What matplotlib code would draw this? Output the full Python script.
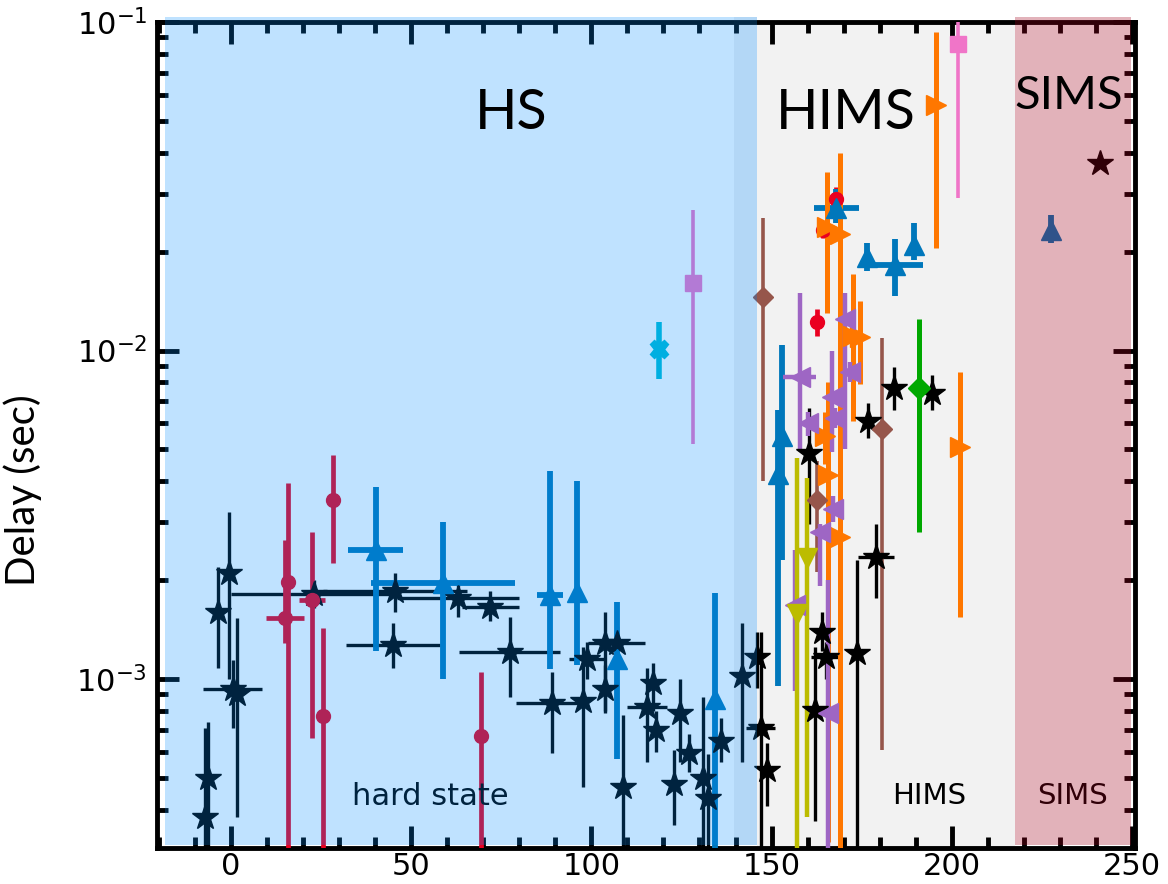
import numpy as np
import matplotlib.pyplot as plt
from matplotlib.ticker import MultipleLocator

# black stars (the main sample)
star_x = [-7.2, -6.4, -3.6, -0.6, 0.5, 1.8, 23, 45.5, 63, 72, 45, 77.4, 89, 97.6,
          98.7, 103.7, 107, 103.7, 108.7, 115.4, 117, 118, 124.5, 127, 123, 131,
          132.4, 136, 141.7, 146, 147, 148.6, 164, 165, 173.6, 162, 160.4, 176.7,
          184, 194.4, 179, 241]
star_y = [3.8e-4, 5.0e-4, 1.6e-3, 2.1e-3, 9.3e-4, 9.0e-4, 1.82e-3, 1.86e-3, 1.76e-3,
          1.66e-3, 1.27e-3, 1.21e-3, 8.45e-4, 8.6e-4, 1.15e-3, 1.29e-3, 1.29e-3,
          9.3e-4, 4.7e-4, 8.2e-4, 9.7e-4, 7.0e-4, 7.9e-4, 5.95e-4, 4.8e-4, 5.0e-4,
          4.35e-4, 6.5e-4, 1.02e-3, 1.17e-3, 7.1e-4, 5.3e-4, 1.39e-3, 1.17e-3,
          1.2e-3, 8.05e-4, 4.86e-3, 6.1e-3, 7.7e-3, 7.45e-3, 2.35e-3, 3.73e-2]
star_xerr = [0, 0, 0, 0, 8.2, 0, 23, 20, 17, 8, 13, 14, 10, 0, 5, 0, 8, 0, 0, 5.5,
             0, 0, 0, 0, 0, 0, 0, 0, 0, 0, 4, 0, 0, 4, 0, 0, 0, 0, 0, 0, 5, 0]
star_ylo = [2e-4, 2e-4, 1.08e-3, 1.0e-3, 7.1e-4, 3.8e-4, 1.65e-3, 1.6e-3, 1.55e-3,
            1.5e-3, 1.08e-3, 8.8e-4, 5.95e-4, 4.7e-4, 1.0e-3, 7.9e-4, 1.15e-3,
            8.0e-4, 2e-4, 5.6e-4, 8e-4, 6e-4, 5.6e-4, 5.2e-4, 3.6e-4, 2e-4, 2e-4,
            5.6e-4, 5.6e-4, 9.4e-4, 2e-4, 4.1e-4, 1.22e-3, 1.0e-3, 2e-4, 3.7e-4,
            2.96e-3, 5.4e-3, 6.6e-3, 6.6e-3, 1.77e-3, 3.73e-2]
star_yhi = [7.1e-4, 7.4e-4, 2.19e-3, 3.22e-3, 1.14e-3, 1.53e-3, 2.0e-3, 2.1e-3,
            2.0e-3, 1.85e-3, 1.48e-3, 1.55e-3, 1.05e-3, 1.25e-3, 1.3e-3, 1.6e-3,
            1.45e-3, 1.1e-3, 7.8e-4, 1.08e-3, 1.12e-3, 8e-4, 1.0e-3, 6.8e-4, 6.1e-4,
            8.8e-4, 5.9e-4, 7.6e-4, 1.48e-3, 1.39e-3, 1.39e-3, 6.4e-4, 1.6e-3,
            1.3e-3, 2.3e-3, 1.25e-3, 6.7e-3, 6.9e-3, 8.9e-3, 8.4e-3, 2.96e-3, 3.73e-2]

red_x = [15.8, 15, 22.5, 28.3, 25.5, 69.3, 162.5, 168, 164.2]
red_y = [1.97e-3, 1.53e-3, 1.74e-3, 3.52e-3, 7.7e-4, 6.7e-4, 1.22e-2, 2.9e-2, 2.33e-2]
red_xerr = [0, 5.2, 3.7, 0, 0, 0, 0, 0, 0]
red_ylo = [2e-4, 1.29e-3, 6.6e-4, 2.26e-3, 2e-4, 2e-4, 1.11e-2, 2.65e-2, 2.2e-2]
red_yhi = [3.94e-3, 2.65e-3, 2.8e-3, 4.8e-3, 1.43e-3, 1.05e-3, 1.34e-2, 3.15e-2, 2.45e-2]

blue_x = [40.2, 58.8, 88.5, 96, 107, 134.3, 153, 151.7, 168, 176.4, 184.2, 189.5, 227.5]
blue_y = [2.47e-3, 1.96e-3, 1.8e-3, 1.84e-3, 1.15e-3, 8.7e-4, 5.5e-3, 4.2e-3,
          2.72e-2, 1.92e-2, 1.82e-2, 2.09e-2, 2.32e-2]
blue_xerr = [7.6, 20, 3.7, 0, 0, 0, 0, 0, 6.2, 0, 7.8, 0, 0]
blue_ylo = [1.22e-3, 1.0e-3, 1.07e-3, 1.1e-3, 5.7e-4, 2e-4, 2.3e-3, 9.5e-4,
            2.45e-2, 1.75e-2, 1.47e-2, 1.88e-2, 2.12e-2]
blue_yhi = [3.84e-3, 3.0e-3, 4.3e-3, 4.0e-3, 1.72e-3, 1.83e-3, 1.04e-2, 6.6e-3,
            3.1e-2, 2.12e-2, 2.19e-2, 2.45e-2, 2.58e-2]

cyan_x = [118.7]
cyan_y = [1.01e-2]
cyan_ylo = [8.2e-3]
cyan_yhi = [1.22e-2]

pink_x = [128.2, 201.7]
pink_y = [1.6e-2, 8.6e-2]
pink_ylo = [5.2e-3, 2.92e-2]
pink_yhi = [2.68e-2, 0.12]

brown_x = [147.6, 180.6, 162.5]
brown_y = [1.46e-2, 5.75e-3, 3.5e-3]
brown_ylo = [4.0e-3, 6.1e-4, 2.12e-3]
brown_yhi = [2.54e-2, 1.09e-2, 4.6e-3]

orange_x = [165.3, 169, 172.5, 174.5, 195.6, 202.2, 164.8, 165.6, 169]
orange_y = [2.37e-2, 2.27e-2, 1.11e-2, 1.1e-2, 5.6e-2, 5.1e-3, 5.5e-3, 4.17e-3, 2.7e-3]
orange_ylo = [1.3e-2, 2e-4, 6.1e-3, 7.9e-3, 2.05e-2, 1.54e-3, 4.5e-3, 3.2e-4, 2.4e-3]
orange_yhi = [3.5e-2, 4.0e-2, 1.71e-2, 1.42e-2, 9.3e-2, 8.6e-3, 6.5e-3, 8.0e-3, 3.0e-3]

purple_x = [170.5, 171.7, 166.7, 167.5, 157.8, 160, 167, 163.4, 156.4, 165.6]
purple_y = [1.25e-2, 8.6e-3, 7.2e-3, 6.25e-3, 8.3e-3, 6.0e-3, 3.3e-3, 2.8e-3, 1.68e-3, 7.9e-4]
purple_xerr = [0, 0, 0, 0, 4.6, 0, 0, 0, 0, 0]
purple_ylo = [5.0e-3, 8.0e-3, 4.9e-3, 5.8e-3, 5.0e-3, 5.5e-3, 3.0e-3, 1.92e-3, 9.2e-4, 2e-4]
purple_yhi = [1.5e-2, 9.2e-3, 1.0e-2, 6.7e-3, 1.5e-2, 6.5e-3, 3.6e-3, 2.96e-3, 2.47e-3, 2.0e-3]

olive_x = [159.8, 157]
olive_y = [2.33e-3, 1.58e-3]
olive_ylo = [3.8e-4, 2e-4]
olive_yhi = [4.1e-3, 4.7e-3]

green_x = [190.8]
green_y = [7.7e-3]
green_ylo = [2.8e-3]
green_yhi = [1.25e-2]


def plot_series(ax, x, y, ylo, yhi, xerr=None, **kw):
    y = np.asarray(y)
    yerr = [y - np.asarray(ylo), np.asarray(yhi) - y]
    ax.errorbar(x, y, yerr=yerr, xerr=xerr, linestyle='none', capsize=0, **kw)


fig = plt.figure(figsize=(11.68, 8.84), dpi=100)
ax = fig.add_axes([0.1344, 0.0407, 0.8373, 0.9344])

# state shading
ax.axvspan(146, 217.5, color='#f2f2f2', lw=0, zorder=0)

plot_series(ax, star_x, star_y, star_ylo, star_yhi, xerr=star_xerr, fmt='*',
            color='black', ms=19, elinewidth=2.4, zorder=3)
plot_series(ax, red_x, red_y, red_ylo, red_yhi, xerr=red_xerr, fmt='o',
            color='#ea0020', ms=10, elinewidth=3.4, zorder=3)
plot_series(ax, blue_x, blue_y, blue_ylo, blue_yhi, xerr=blue_xerr, fmt='^',
            color='#0077bb', ms=14, elinewidth=4.2, zorder=3)
plot_series(ax, cyan_x, cyan_y, cyan_ylo, cyan_yhi, fmt='X',
            color='#00bcd8', ms=13, elinewidth=4, zorder=3)
plot_series(ax, pink_x, pink_y, pink_ylo, pink_yhi, fmt='s',
            color='#f075c8', ms=12, elinewidth=2.6, zorder=3)
plot_series(ax, brown_x, brown_y, brown_ylo, brown_yhi, fmt='D',
            color='#96564b', ms=10, elinewidth=2.6, zorder=3)
plot_series(ax, orange_x, orange_y, orange_ylo, orange_yhi, fmt='>',
            color='#ff7700', ms=15, elinewidth=3.6, zorder=3)
plot_series(ax, purple_x, purple_y, purple_ylo, purple_yhi, xerr=purple_xerr, fmt='<',
            color='#9e66c4', ms=15, elinewidth=3.2, zorder=3)
plot_series(ax, olive_x, olive_y, olive_ylo, olive_yhi, fmt='v',
            color='#bcbc00', ms=15, elinewidth=3.2, zorder=3)
plot_series(ax, green_x, green_y, green_ylo, green_yhi, fmt='D',
            color='#00a800', ms=11, elinewidth=3.6, zorder=3)

ax.text(55.2, 4.4e-4, 'hard state', fontsize=22, ha='center', va='center', zorder=4)
ax.text(193.6, 4.4e-4, 'HIMS', fontsize=21, ha='center', va='center', zorder=4)
ax.text(233.6, 4.4e-4, 'SIMS', fontsize=21, ha='center', va='center', zorder=4)

# translucent overlays for the hard and soft-intermediate states
ax.axvspan(-18.3, 146, ymin=0.004, ymax=1.006, color=(0.0, 0.55, 1.0), alpha=0.25,
           lw=0, zorder=10, clip_on=False)
ax.axvspan(139.5, 146, ymin=0.004, ymax=1.006, color='#1f4f80', alpha=0.07,
           lw=0, zorder=10, clip_on=False)
ax.axvspan(217.5, 249.8, ymin=0.004, ymax=1.006, color=(0.63, 0.0, 0.105), alpha=0.3,
           lw=0, zorder=10, clip_on=False)

ax.text(77.7, 5.28e-2, 'HS', fontsize=40, family='Lato', ha='center', va='center', zorder=12)
ax.text(170.6, 5.28e-2, 'HIMS', fontsize=40, family='Lato', ha='center', va='center', zorder=12)
ax.text(232.5, 5.96e-2, 'SIMS', fontsize=34, family='Lato', ha='center', va='center', zorder=12)

ax.set_yscale('log')
ax.set_xlim(-20.5, 250.8)
ax.set_ylim(3.06e-4, 0.1)
ax.xaxis.set_major_locator(MultipleLocator(50))
ax.xaxis.set_minor_locator(MultipleLocator(10))

ax.tick_params(which='both', direction='in', top=True, right=True, width=3.5,
               labelsize=22, pad=7)
ax.tick_params(axis='x', which='both', pad=3)
ax.tick_params(which='major', length=16)
ax.tick_params(which='minor', length=8)
for sp in ax.spines.values():
    sp.set_linewidth(3.5)

ax.set_ylabel('Delay (sec)', fontsize=29, family='Lato')
ax.yaxis.set_label_coords(-0.1176, 0.433)

fig.savefig('out.png', dpi=100)
